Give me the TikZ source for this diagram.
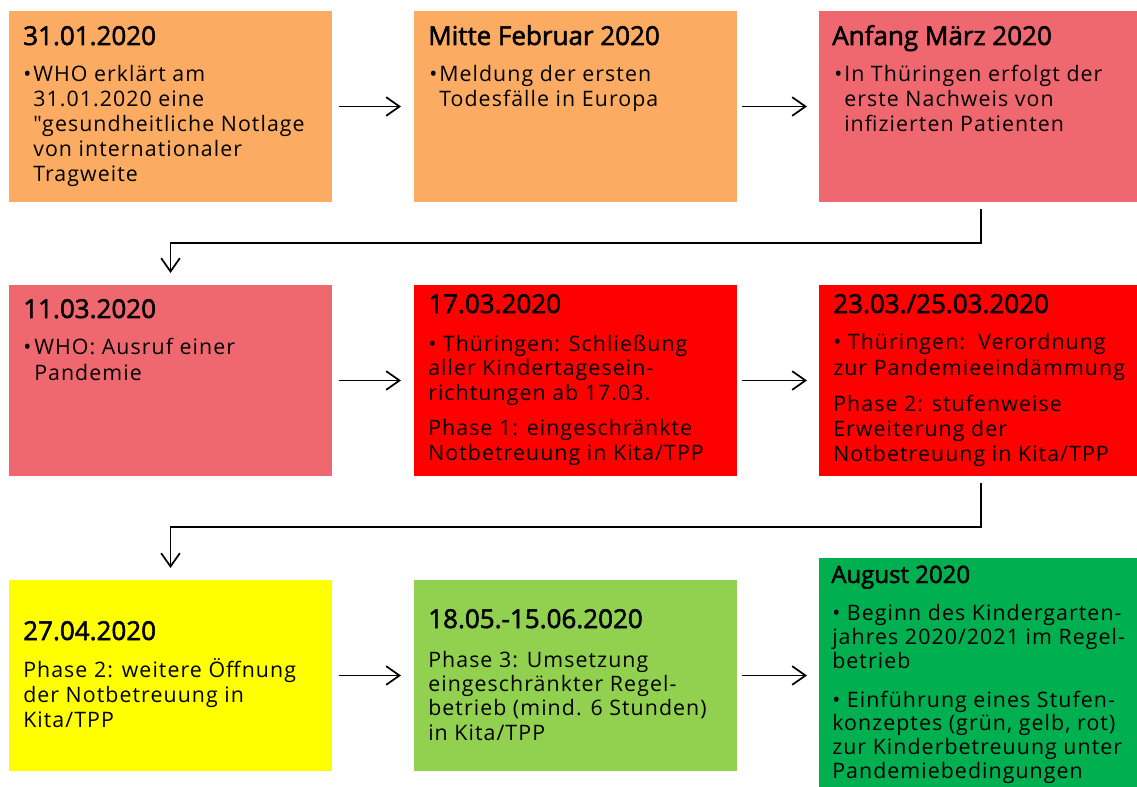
\documentclass[tikz,border=0pt]{standalone}
\usepackage{fontspec}
\setmainfont{Open Sans}
\newfontfamily\bodyfam{Open Sans}[LetterSpace=5]
\newfontfamily\titlefam{Open Sans}[FakeBold=2]
\usetikzlibrary{arrows.meta}
\definecolor{corange}{HTML}{FBAC62}
\definecolor{cpink}{HTML}{EF6870}
\definecolor{cred}{HTML}{FF0000}
\definecolor{cyellow}{HTML}{FFFF00}
\definecolor{clgreen}{HTML}{92D050}
\definecolor{cgreen}{HTML}{00B050}
\begin{document}
\begin{tikzpicture}[x=0.75pt,y=-0.75pt,
  box/.style={inner sep=0pt,outer sep=0pt,anchor=north west,minimum height=143.25pt},
  wideA/.style={box,minimum width=242.25pt},
  wideB/.style={box,minimum width=238.5pt},
  title/.style={inner sep=0pt,anchor=base west,font=\titlefam\fontsize{19.5}{22}\selectfont},
  body/.style={inner sep=0pt,anchor=base west,align=left,font=\bodyfam\fontsize{16}{#1}\selectfont},
  body/.default=18.75pt,
  arr/.style={-{Straight Barb[length=10pt,width=14pt]},line width=1.3pt}]
\useasboundingbox (0,0) rectangle (1137,787);
% row 1
\node[wideA,fill=corange] (b1) at (9,11) {};
\node[wideA,fill=corange] (b2) at (414,11) {};
\node[wideB,fill=cpink] (b3) at (819,11) {};
% row 2
\node[wideA,fill=cpink] (b4) at (9,285) {};
\node[wideA,fill=cred] (b5) at (414,285) {};
\node[wideB,fill=cred] (b6) at (819,285) {};
% row 3
\node[wideA,fill=cyellow] (b7) at (9,580) {};
\node[wideA,fill=clgreen] (b8) at (414,580) {};
\node[wideB,fill=cgreen,minimum height=171.75pt] (b9) at (819,558) {};

% (multi-line text nodes are placed at the baseline of their last line)
% box 1
\node[title] (t1) at (23,45) {31.01.2020};
\node[body] (d1) at (23,82) {•};
\node[body] (p1) at (33,182) {WHO erklärt am\\31.01.2020 eine\\"gesundheitliche Notlage\\von internationaler\\Tragweite};
% box 2
\node[title] (t2) at (428,45) {Mitte Februar 2020};
\node[body] (d2) at (429,82) {•};
\node[body] (p2) at (439,107) {Meldung der ersten\\Todesfälle in Europa};
% box 3
\node[title] (t3) at (832,45) {Anfang März 2020};
\node[body] (d3) at (834,82) {•};
\node[body] (p3) at (844,132) {In Thüringen erfolgt der\\erste Nachweis von\\infizierten Patienten};
% box 4
\node[title] (t4) at (23,318) {11.03.2020};
\node[body] (d4) at (23,355) {•};
\node[body] (p4) at (34,380) {WHO: Ausruf einer\\Pandemie};
% box 5
\node[title] (t5) at (428,313) {17.03.2020};
\node[body=18pt] (p5) at (428,400) {• Thüringen: Schließung\\aller Kindertagesein-\\richtungen ab 17.03.};
\node[body=18.75pt] (q5) at (428,460) {Phase 1: eingeschränkte\\Notbetreuung in Kita/TPP};
% box 6
\node[title] (t6) at (833,313) {23.03./25.03.2020};
\node[body=18.75pt] (p6) at (833,375) {• Thüringen:\ \ Verordnung\\zur Pandemieeindämmung};
\node[body=18.5pt] (q6) at (833,461) {Phase 2: stufenweise\\Erweiterung der\\Notbetreuung in Kita/TPP};
% box 7
\node[title] (t7) at (23,640) {27.04.2020};
\node[body] (p7) at (23,727) {Phase 2: weitere Öffnung\\der Notbetreuung in\\Kita/TPP};
% box 8
\node[title] (t8) at (428,628) {18.05.-15.06.2020};
\node[body=18.25pt] (p8) at (428,740) {Phase 3: Umsetzung\\eingeschränkter Regel-\\betrieb (mind. 6 Stunden)\\in Kita/TPP};
% box 9
\node[title,font=\titlefam\fontsize{18}{20}\selectfont] (t9) at (831,583) {August 2020};
\node[body=18pt] (p9) at (832,668) {• Beginn des Kindergarten-\\jahres 2020/2021 im Regel-\\betrieb};
\node[body=17.75pt] (q9) at (832,778) {• Einführung eines Stufen-\\konzeptes (grün, gelb, rot)\\zur Kinderbetreuung unter\\Pandemiebedingungen};

% connectors
\draw[arr] ([xshift=5.25pt]b1.east) -- ([xshift=-9.75pt]b2.west);
\draw[arr] ([xshift=3.75pt]b2.east) -- ([xshift=-9pt]b3.west);
\draw[arr] ([xshift=5.25pt]b4.east) -- ([xshift=-9.75pt]b5.west);
\draw[arr] ([xshift=3.75pt]b5.east) -- ([xshift=-9pt]b6.west);
\draw[arr] ([xshift=5.25pt]b7.east) -- ([xshift=-9.75pt]b8.west);
\draw[arr] ([xshift=3.75pt]b8.east) -- ([xshift=-9pt]b8.east -| b9.west);
\coordinate (k1) at (0,243);
\coordinate (k2) at (0,527);
\draw[arr] ([xshift=2.25pt,yshift=-5.25pt]b3.south) |- (b4.north |- k1) -- ([yshift=9pt]b4.north);
\draw[arr] ([xshift=2.25pt,yshift=-5.25pt]b6.south) |- (b7.north |- k2) -- ([yshift=9pt]b7.north);
\end{tikzpicture}
\end{document}
